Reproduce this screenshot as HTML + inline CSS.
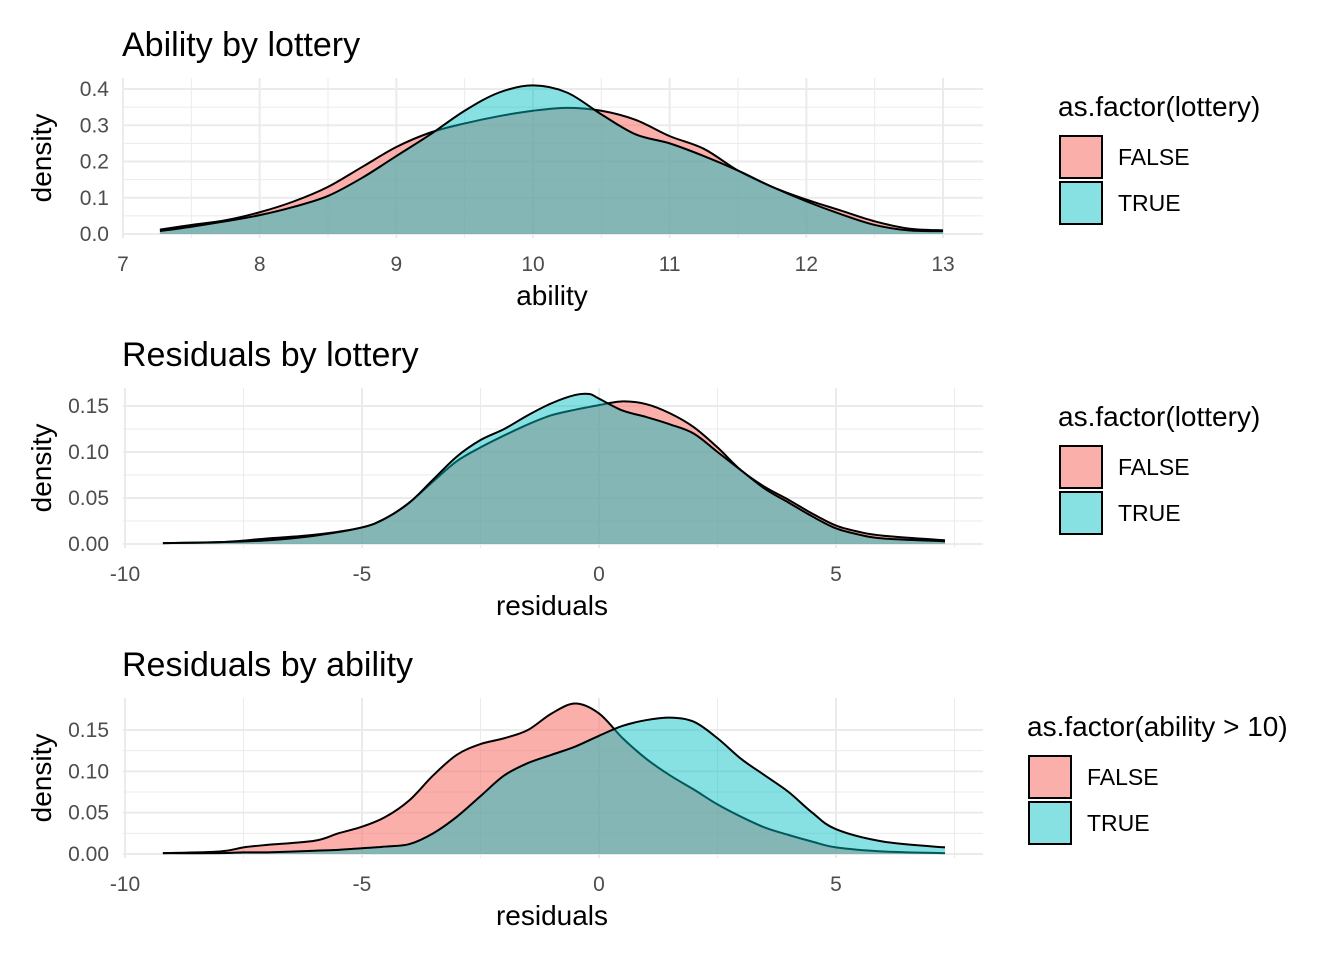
<!DOCTYPE html>
<html><head><meta charset="utf-8"><style>
body{margin:0;background:#fff;font-family:"Liberation Sans",Arial,sans-serif}
svg text{font-family:"Liberation Sans",Arial,sans-serif}
</style></head><body>
<svg id="chart" width="1344" height="960"></svg>
<script>
// Panel 1: ability by lottery
const p1X = [7.27,7.5,7.75,8,8.25,8.5,8.75,9,9.25,9.5,9.75,10,10.25,10.5,10.75,11,11.25,11.5,11.75,12,12.25,12.5,12.75,13];
const p1False = [0.012,0.025,0.038,0.06,0.09,0.13,0.185,0.24,0.28,0.305,0.325,0.34,0.348,0.34,0.315,0.27,0.235,0.175,0.13,0.095,0.065,0.035,0.015,0.01];
const p1True = [0.008,0.02,0.035,0.052,0.075,0.105,0.155,0.215,0.275,0.34,0.39,0.41,0.39,0.33,0.275,0.25,0.215,0.175,0.13,0.09,0.055,0.025,0.01,0.008];
// Panel 2: residuals by lottery
const p2X = [-9.2,-8,-7,-6,-5,-4.5,-4,-3.5,-3,-2.5,-2,-1.5,-1,-0.5,-0.2,0,0.5,1,1.5,2,2.5,3,3.5,4,4.5,5,5.5,6,7.3];
const p2False = [0.001,0.002,0.006,0.01,0.018,0.028,0.045,0.068,0.09,0.105,0.118,0.13,0.14,0.146,0.149,0.151,0.155,0.152,0.142,0.127,0.105,0.08,0.062,0.048,0.033,0.02,0.013,0.009,0.004];
const p2True = [0.001,0.002,0.004,0.009,0.018,0.028,0.045,0.07,0.095,0.113,0.125,0.14,0.153,0.162,0.163,0.158,0.145,0.138,0.13,0.12,0.1,0.08,0.06,0.045,0.03,0.017,0.01,0.006,0.003];
// Panel 3: residuals by ability
const p3X = [-9.2,-8,-7.5,-7,-6,-5.5,-5,-4.5,-4,-3.5,-3,-2.5,-2,-1.5,-1,-0.5,0,0.5,1,1.5,2,2.5,3,3.5,4,4.5,5,6,7.3];
const p3False = [0.001,0.003,0.008,0.011,0.016,0.025,0.033,0.045,0.065,0.095,0.12,0.133,0.14,0.15,0.17,0.182,0.17,0.14,0.115,0.095,0.078,0.06,0.045,0.032,0.023,0.015,0.008,0.003,0.001];
const p3True = [0.001,0.001,0.002,0.002,0.004,0.005,0.007,0.009,0.012,0.025,0.045,0.07,0.095,0.11,0.12,0.13,0.143,0.155,0.162,0.165,0.16,0.14,0.115,0.095,0.075,0.05,0.03,0.015,0.008];
const p1XTicks = [7,8,9,10,11,12,13];
const p1YTicks = ["0.0","0.1","0.2","0.3","0.4"];
const resXTicks = [-10,-5,0,5];
const resYTicks = ["0.00","0.05","0.10","0.15"];

const svg = document.getElementById('chart');
const NS = 'http://www.w3.org/2000/svg';
function mk(tag, attrs, parent){const e=document.createElementNS(NS,tag);for(const k in attrs)e.setAttribute(k,attrs[k]);(parent||svg).appendChild(e);return e;}
function smooth(pts){let d='M'+pts[0][0]+','+pts[0][1];for(let i=0;i<pts.length-1;i++){const p0=pts[Math.max(0,i-1)],p1=pts[i],p2=pts[i+1],p3=pts[Math.min(pts.length-1,i+2)];d+=' C'+(p1[0]+(p2[0]-p0[0])/6)+','+(p1[1]+(p2[1]-p0[1])/6)+' '+(p2[0]-(p3[0]-p1[0])/6)+','+(p2[1]-(p3[1]-p1[1])/6)+' '+p2[0]+','+p2[1];}return d;}

function panel(cfg){
  const g=mk('g',{});
  
  
  const sx=v=>cfg.x0px+(v-cfg.x0)*cfg.xs, sy=v=>cfg.y0px-v*cfg.ys;
  for(const v of cfg.xMinor){const l=mk('line',{x1:sx(v),x2:sx(v),y1:cfg.top,y2:cfg.bot,stroke:'#ebebeb','stroke-width':1},g);}
  for(const v of cfg.yMinor){const l=mk('line',{x1:cfg.left,x2:cfg.right,y1:sy(v),y2:sy(v),stroke:'#ebebeb','stroke-width':1},g);}
  for(const v of cfg.xTicks){const l=mk('line',{x1:sx(v),x2:sx(v),y1:cfg.top,y2:cfg.bot,stroke:'#ebebeb','stroke-width':2},g);
    const t=mk('text',{x:sx(v),y:cfg.bot+33,'text-anchor':'middle','font-size':21,fill:'#4d4d4d'},g);t.textContent=v;}
  for(const s of cfg.yTicks){const v=parseFloat(s);const l=mk('line',{x1:cfg.left,x2:cfg.right,y1:sy(v),y2:sy(v),stroke:'#ebebeb','stroke-width':2},g);
    const t=mk('text',{x:cfg.left-14,y:sy(v)+7,'text-anchor':'end','font-size':21,fill:'#4d4d4d'},g);t.textContent=s;}
  [[cfg.f,'#F8766D',0.58,'false-density'],[cfg.t,'#00BFC4',0.47,'true-density']].forEach(([ys,c,op,n])=>{
    const pts=cfg.xs_.map((x,i)=>[sx(x),sy(ys[i])]);
    const d=smooth(pts);
    const a=mk('path',{d:d+' L'+pts[pts.length-1][0]+','+sy(0)+' L'+pts[0][0]+','+sy(0)+' Z',fill:c,'fill-opacity':op,stroke:'none'},g);
    
    const l=mk('path',{d:d,fill:'none',stroke:'#000','stroke-width':2},g);
    
  });
  let t=mk('text',{x:122,y:cfg.top-22,'font-size':34,fill:'#000'},g);t.textContent=cfg.title;
  t=mk('text',{x:552,y:cfg.bot+67,'text-anchor':'middle','font-size':28,fill:'#000'},g);t.textContent=cfg.xlab;
  const cy=(cfg.top+cfg.bot)/2;
  t=mk('text',{x:cy,y:51,'text-anchor':'middle','font-size':28,fill:'#000',transform:'rotate(-90 '+cy+' 51) translate('+(-2*cy+cy)+',0)'},g);
  t.setAttribute('x',0);t.setAttribute('y',0);t.setAttribute('transform','translate(51,'+cy+') rotate(-90)');
  t.textContent='density';
  const lx=cfg.legX, ly=cfg.top;
  t=mk('text',{x:lx-2,y:ly+38,'font-size':28,fill:'#000'},g);t.textContent=cfg.legTitle;
  [['FALSE','#F8766D',0.58,58],['TRUE','#00BFC4',0.47,104]].forEach(([lab,c,op,dy])=>{
    const r=mk('rect',{x:lx,y:ly+dy,width:42,height:42,fill:c,'fill-opacity':op,stroke:'#000','stroke-width':2},g);
    const tt=mk('text',{x:lx+58,y:ly+dy+29,'font-size':23,fill:'#000'},g);tt.textContent=lab;
  });
}
const half=a=>a.slice(0,-1).map((v,i)=>(v+a[i+1])/2);
panel({name:'ability-panel',title:'Ability by lottery',xlab:'ability',top:78,bot:238,left:123,right:983,x0:7,x0px:123,xs:136.67,y0px:234,ys:362.5,
  xTicks:p1XTicks,xMinor:half(p1XTicks),yTicks:p1YTicks,yMinor:[0.05,0.15,0.25,0.35],xs_:p1X,f:p1False,t:p1True,legX:1060,legTitle:'as.factor(lottery)'});
panel({name:'residuals-lottery-panel',title:'Residuals by lottery',xlab:'residuals',top:388,bot:548,left:123,right:983,x0:0,x0px:599,xs:47.4,y0px:544,ys:920,
  xTicks:resXTicks,xMinor:[-7.5,-2.5,2.5,7.5],yTicks:resYTicks,yMinor:[0.025,0.075,0.125],xs_:p2X,f:p2False,t:p2True,legX:1060,legTitle:'as.factor(lottery)'});
panel({name:'residuals-ability-panel',title:'Residuals by ability',xlab:'residuals',top:698,bot:858,left:123,right:983,x0:0,x0px:599,xs:47.4,y0px:854,ys:826.7,
  xTicks:resXTicks,xMinor:[-7.5,-2.5,2.5,7.5],yTicks:resYTicks,yMinor:[0.025,0.075,0.125],xs_:p3X,f:p3False,t:p3True,legX:1029,legTitle:'as.factor(ability > 10)'});
</script>
</body></html>
